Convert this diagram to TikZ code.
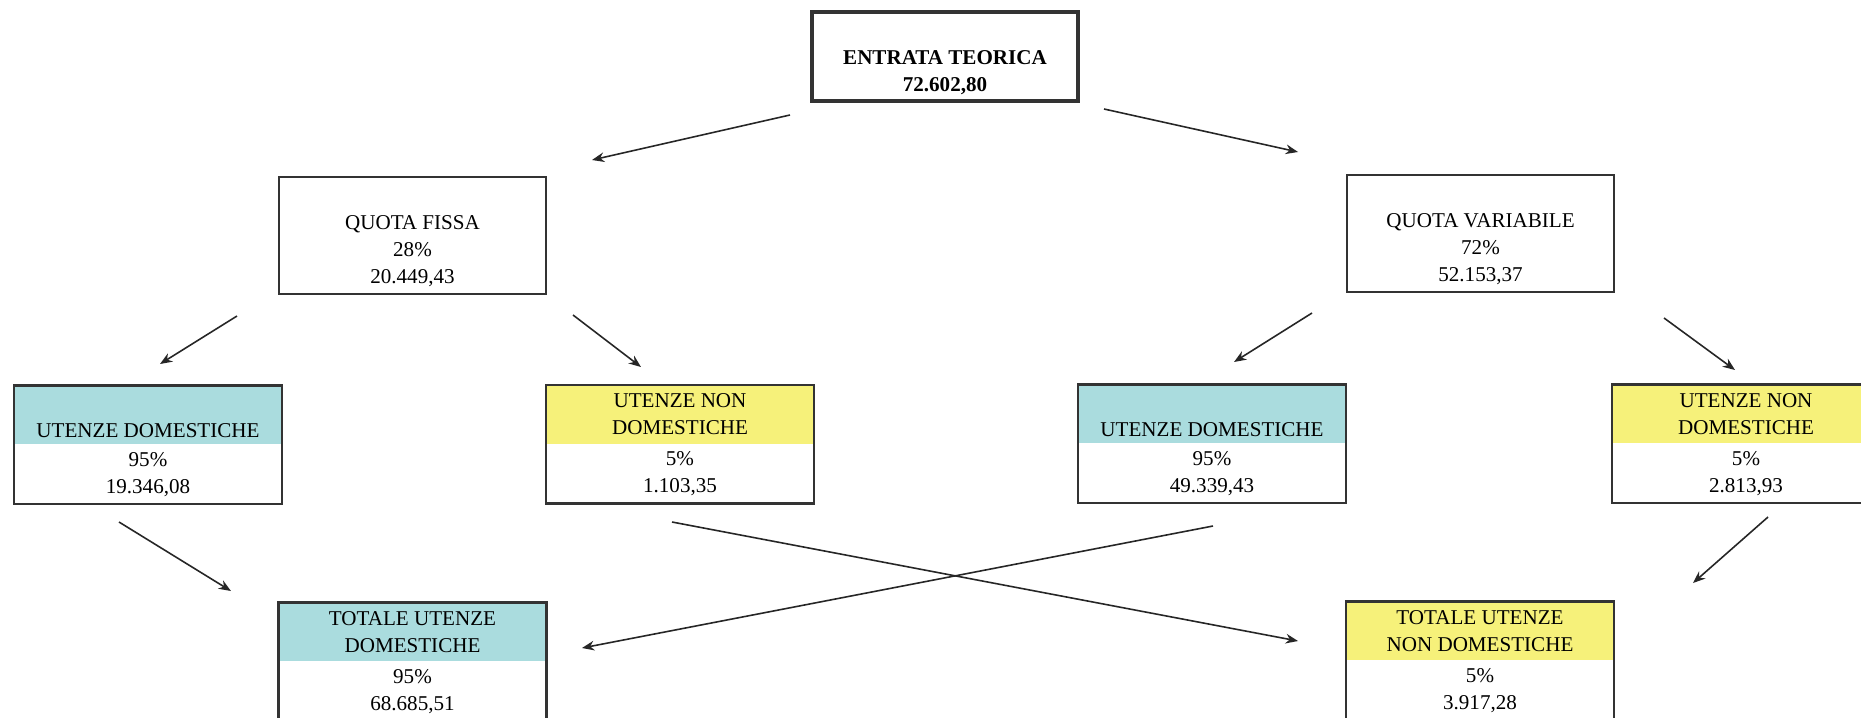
\documentclass[tikz,border=0pt]{standalone}
\usepackage{fontspec}
\setmainfont{Liberation Serif}
\usetikzlibrary{positioning,arrows.meta}

\definecolor{domblue}{RGB}{170,220,222}
\definecolor{nondomyellow}{RGB}{246,241,122}

\begin{document}
\begin{tikzpicture}[x=0.02cm,y=-0.02cm,
    font=\fontsize{12}{15.3}\selectfont,
    box/.style={draw=black!80, line width=1.4pt, minimum width=5.34cm, minimum height=2.34cm, align=center, inner sep=0pt},
    head/.style={fill=#1, minimum width=5.34cm, minimum height=1.16cm, align=center, inner sep=0pt},
    body/.style={minimum width=5.34cm, minimum height=1.18cm, align=center, inner sep=0pt},
    frame/.style={draw=black!80, line width=1.4pt},
    arr/.style={-{Stealth[length=7pt,width=5.5pt]}, line width=0.9pt, black!85}]

    % Page
    \path[use as bounding box, clip] (0,0) rectangle (1861,717);
    \fill[white] (0,0) rectangle (1861,717);

    % Total and the two quotas
    \node[box, line width=2pt, minimum width=5.32cm, minimum height=1.78cm, font=\fontsize{12}{15.3}\selectfont\bfseries] (entrata) at (945,56.5) {\strut\\ENTRATA TEORICA\\72.602,80};
    \node[box] (fissa) at (412.5,235.5) {\strut\\QUOTA FISSA\\28\%\\20.449,43};
    \node[box] (variabile) at (1480.5,233.5) {\strut\\QUOTA VARIABILE\\72\%\\52.153,37};

    % Split of the fixed quota
    \node[head=domblue] (dom1) at (148,415) {\strut\\UTENZE DOMESTICHE};
    \node[body, below=0pt of dom1] (dom1v) {95\%\\19.346,08};
    \draw[frame] (dom1.north west) rectangle (dom1v.south east);

    \node[head=nondomyellow] (nondom1) at (680,414.5) {UTENZE NON\\DOMESTICHE};
    \node[body, below=0pt of nondom1] (nondom1v) {5\%\\1.103,35};
    \draw[frame] (nondom1.north west) rectangle (nondom1v.south east);

    % Split of the variable quota
    \node[head=domblue] (dom2) at (1212,414) {\strut\\UTENZE DOMESTICHE};
    \node[body, below=0pt of dom2] (dom2v) {95\%\\49.339,43};
    \draw[frame] (dom2.north west) rectangle (dom2v.south east);

    \node[head=nondomyellow] (nondom2) at (1746,414) {UTENZE NON\\DOMESTICHE};
    \node[body, below=0pt of nondom2] (nondom2v) {5\%\\2.813,93};
    \draw[frame] (nondom2.north west) rectangle (nondom2v.south east);

    % Totals
    \node[head=domblue] (totdom) at (412.5,632) {TOTALE UTENZE\\DOMESTICHE};
    \node[body, below=0pt of totdom] (totdomv) {95\%\\68.685,51};
    \draw[frame] (totdom.north west) rectangle (totdomv.south east);

    \node[head=nondomyellow] (totnondom) at (1480,631) {TOTALE UTENZE\\NON DOMESTICHE};
    \node[body, below=0pt of totnondom] (totnondomv) {5\%\\3.917,28};
    \draw[frame] (totnondom.north west) rectangle (totnondomv.south east);

    % Arrow ends
    \coordinate (e1) at (790,115);   \coordinate (f0) at (592,160);
    \coordinate (e2) at (1104,109);  \coordinate (v0) at (1298,152);
    \coordinate (f1) at (237,316);   \coordinate (d1) at (160,364);
    \coordinate (f2) at (573,315);   \coordinate (n1) at (641,367);
    \coordinate (v1) at (1312,313);  \coordinate (d2) at (1234,362);
    \coordinate (v2) at (1664,318);  \coordinate (n2) at (1735,370);
    \coordinate (d1b) at (119,522);  \coordinate (td1) at (231,591);
    \coordinate (n1b) at (672,522);  \coordinate (tn1) at (1298,641);
    \coordinate (d2b) at (1213,526); \coordinate (td2) at (582,648);
    \coordinate (n2b) at (1768,517); \coordinate (tn2) at (1693,583);

    % Arrows
    \draw[arr] (e1) -- (f0);
    \draw[arr] (e2) -- (v0);
    \draw[arr] (f1) -- (d1);
    \draw[arr] (f2) -- (n1);
    \draw[arr] (v1) -- (d2);
    \draw[arr] (v2) -- (n2);
    \draw[arr] (d1b) -- (td1);
    \draw[arr] (n1b) -- (tn1);
    \draw[arr] (d2b) -- (td2);
    \draw[arr] (n2b) -- (tn2);
\end{tikzpicture}
\end{document}
